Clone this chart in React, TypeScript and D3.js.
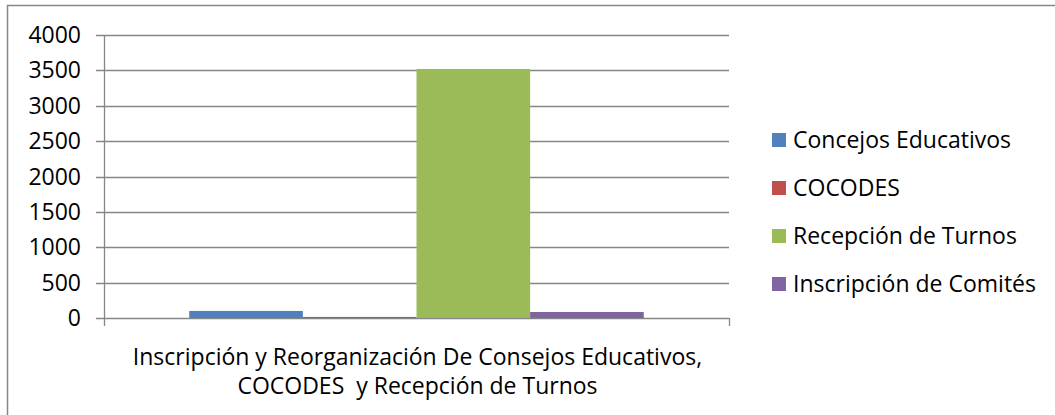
import React from "react";
import * as d3 from "d3";

const seriesNames = ["Concejos Educativos", "COCODES", "Recepción de Turnos", "Inscripción de Comités"];
const seriesValues = [100, 15, 3520, 85];
const seriesColors = ["#4F81BD", "#C0504D", "#9BBB59", "#8064A2"];
const categories = ["Inscripción y Reorganización De Consejos Educativos, COCODES  y Recepción de Turnos"];
const categoryLines = ["Inscripción y Reorganización De Consejos Educativos,", "COCODES  y Recepción de Turnos"];
const yTicks = [0, 500, 1000, 1500, 2000, 2500, 3000, 3500, 4000];

const W = 1055, H = 415;
const plot = { left: 104, right: 729, top: 35, bottom: 318 };
const FONT = "'Open Sans', Lato, sans-serif";
const FS = 23;
const GRID = "#868686";

export default function App() {
  const y = d3.scaleLinear().domain([0, 4000]).range([plot.bottom, plot.top]);
  const x0 = d3.scaleBand<string>().domain(categories).range([plot.left, plot.right]).paddingInner(0).paddingOuter(0);
  const bw = x0.bandwidth();
  // Excel gap width 150%: group = 4 bars + 1.5 bar gap
  const barW = bw / (seriesNames.length + 1.5);
  const groupStart = (x0(categories[0]) as number) + barW * 0.75;
  const x1 = d3.scaleBand<string>().domain(seriesNames).range([groupStart, groupStart + barW * seriesNames.length]);
  const cx = (plot.left + plot.right) / 2 + 1;

  return (
    <svg width={W} height={H} style={{ display: "block", position: "absolute", left: 0, top: 0 }}>
      <rect x={0} y={0} width={W} height={H} fill="#fff" />
      <rect x={7.5} y={5.5} width={W + 10} height={H + 10} fill="none" stroke={GRID} strokeWidth={1.5} />
      {yTicks.map((t) => (
        <g key={t}>
          <line x1={plot.left - 8} x2={plot.right} y1={Math.round(y(t)) + 0.5} y2={Math.round(y(t)) + 0.5} stroke={GRID} strokeWidth={1.3} />
          <text x={81} y={y(t) + 8} textAnchor="end" fontFamily={FONT} fontSize={FS} fill="#000">{t}</text>
        </g>
      ))}
      <line x1={plot.left + 0.5} x2={plot.left + 0.5} y1={plot.top} y2={plot.bottom + 8} stroke={GRID} strokeWidth={1.3} />
      <line x1={plot.right + 0.5} x2={plot.right + 0.5} y1={plot.bottom} y2={plot.bottom + 8} stroke={GRID} strokeWidth={1.3} />
      {seriesNames.map((s, i) => (
        <rect key={s} x={x1(s)} y={y(seriesValues[i])} width={x1.bandwidth()} height={plot.bottom - y(seriesValues[i])} fill={seriesColors[i]} />
      ))}
      {categoryLines.map((l, i) => (
        <text key={i} x={cx} y={365 + i * 29} textAnchor="middle" fontFamily={FONT} fontSize={FS} fill="#000" style={{ whiteSpace: "pre" }}>{l}</text>
      ))}
      {seriesNames.map((s, i) => (
        <g key={s} transform={`translate(772, ${140 + i * 48})`}>
          <rect x={0} y={-7} width={14} height={14} fill={seriesColors[i]} />
          <text x={21} y={8} fontFamily={FONT} fontSize={FS} fill="#000">{s}</text>
        </g>
      ))}
    </svg>
  );
}
